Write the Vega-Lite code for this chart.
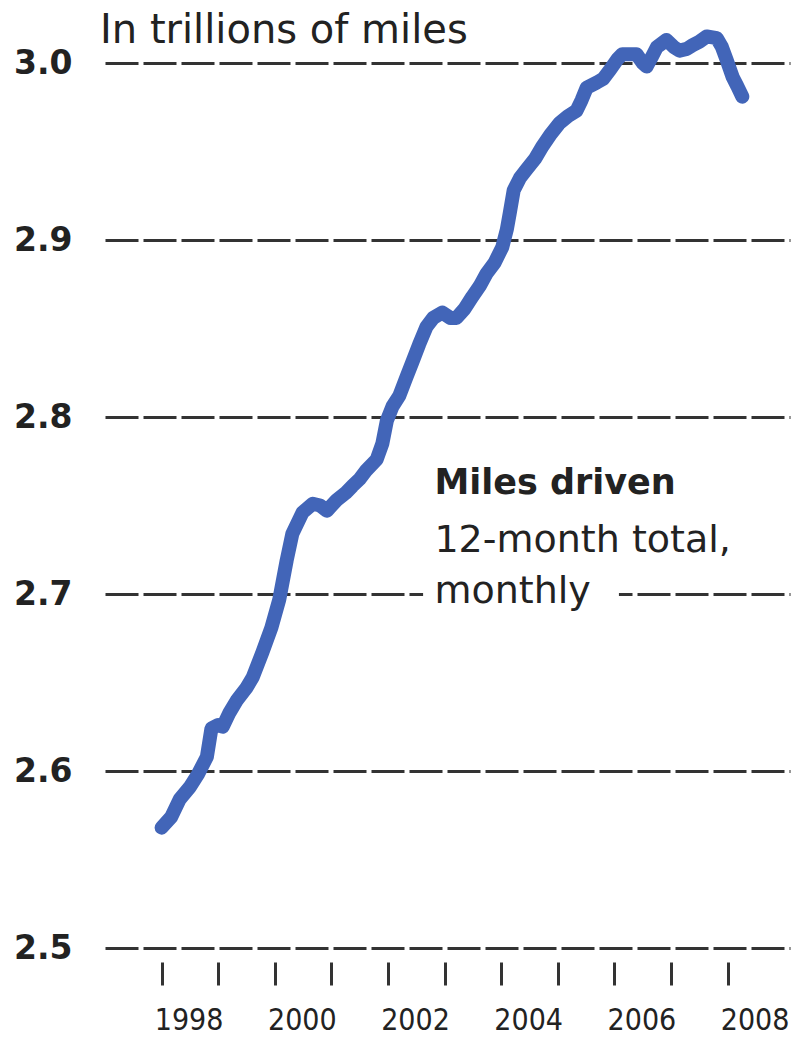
{
  "$schema": "https://vega.github.io/schema/vega-lite/v6.json",
  "autosize": "none",
  "width": 685,
  "height": 885,
  "padding": {"left": 105, "top": 63, "right": 7, "bottom": 91},
  "background": "white",
  "config": {"view": {"stroke": null}},
  "datasets": {
    "miles": [
      {"year": 1998.00, "miles": 2.568},
      {"year": 1998.17, "miles": 2.574},
      {"year": 1998.32, "miles": 2.584},
      {"year": 1998.50, "miles": 2.591},
      {"year": 1998.64, "miles": 2.598},
      {"year": 1998.80, "miles": 2.608},
      {"year": 1998.88, "miles": 2.624},
      {"year": 1999.00, "miles": 2.626},
      {"year": 1999.08, "miles": 2.625},
      {"year": 1999.20, "miles": 2.633},
      {"year": 1999.33, "miles": 2.640},
      {"year": 1999.50, "miles": 2.647},
      {"year": 1999.61, "miles": 2.653},
      {"year": 1999.78, "miles": 2.667},
      {"year": 1999.94, "miles": 2.681},
      {"year": 2000.08, "miles": 2.697},
      {"year": 2000.21, "miles": 2.719},
      {"year": 2000.31, "miles": 2.734},
      {"year": 2000.49, "miles": 2.746},
      {"year": 2000.67, "miles": 2.751},
      {"year": 2000.80, "miles": 2.750},
      {"year": 2000.92, "miles": 2.747},
      {"year": 2001.09, "miles": 2.753},
      {"year": 2001.25, "miles": 2.757},
      {"year": 2001.37, "miles": 2.761},
      {"year": 2001.50, "miles": 2.765},
      {"year": 2001.62, "miles": 2.770},
      {"year": 2001.80, "miles": 2.776},
      {"year": 2001.90, "miles": 2.785},
      {"year": 2001.98, "miles": 2.798},
      {"year": 2002.08, "miles": 2.806},
      {"year": 2002.20, "miles": 2.812},
      {"year": 2002.32, "miles": 2.822},
      {"year": 2002.43, "miles": 2.831},
      {"year": 2002.55, "miles": 2.841},
      {"year": 2002.68, "miles": 2.851},
      {"year": 2002.80, "miles": 2.856},
      {"year": 2002.96, "miles": 2.859},
      {"year": 2003.10, "miles": 2.856},
      {"year": 2003.21, "miles": 2.856},
      {"year": 2003.35, "miles": 2.861},
      {"year": 2003.49, "miles": 2.868},
      {"year": 2003.62, "miles": 2.874},
      {"year": 2003.74, "miles": 2.881},
      {"year": 2003.88, "miles": 2.887},
      {"year": 2004.02, "miles": 2.896},
      {"year": 2004.10, "miles": 2.906},
      {"year": 2004.15, "miles": 2.915},
      {"year": 2004.22, "miles": 2.928},
      {"year": 2004.33, "miles": 2.935},
      {"year": 2004.45, "miles": 2.940},
      {"year": 2004.60, "miles": 2.946},
      {"year": 2004.73, "miles": 2.953},
      {"year": 2004.88, "miles": 2.960},
      {"year": 2005.03, "miles": 2.966},
      {"year": 2005.18, "miles": 2.970},
      {"year": 2005.33, "miles": 2.973},
      {"year": 2005.42, "miles": 2.979},
      {"year": 2005.51, "miles": 2.986},
      {"year": 2005.69, "miles": 2.989},
      {"year": 2005.80, "miles": 2.991},
      {"year": 2005.92, "miles": 2.996},
      {"year": 2006.05, "miles": 3.002},
      {"year": 2006.14, "miles": 3.005},
      {"year": 2006.25, "miles": 3.005},
      {"year": 2006.39, "miles": 3.005},
      {"year": 2006.50, "miles": 3.000},
      {"year": 2006.57, "miles": 2.998},
      {"year": 2006.67, "miles": 3.004},
      {"year": 2006.75, "miles": 3.009},
      {"year": 2006.92, "miles": 3.013},
      {"year": 2007.05, "miles": 3.009},
      {"year": 2007.15, "miles": 3.007},
      {"year": 2007.28, "miles": 3.008},
      {"year": 2007.38, "miles": 3.010},
      {"year": 2007.50, "miles": 3.012},
      {"year": 2007.63, "miles": 3.015},
      {"year": 2007.81, "miles": 3.014},
      {"year": 2007.90, "miles": 3.009},
      {"year": 2007.98, "miles": 3.002},
      {"year": 2008.09, "miles": 2.992},
      {"year": 2008.17, "miles": 2.987},
      {"year": 2008.26, "miles": 2.981}
    ]
  },
  "layer": [
    {
      "data": {"name": "miles"},
      "mark": {"type": "line", "color": "#4265b8", "strokeWidth": 14, "strokeCap": "round", "strokeJoin": "round"},
      "encoding": {
        "x": {
          "field": "year",
          "type": "quantitative",
          "scale": {"domain": [1997, 2009.1025], "nice": false, "zero": false},
          "axis": {
            "title": null,
            "values": [1998, 1999, 2000, 2001, 2002, 2003, 2004, 2005, 2006, 2007, 2008],
            "format": "d",
            "labelExpr": "datum.value % 2 == 0 ? datum.label : ''",
            "grid": false,
            "domain": false,
            "offset": 14,
            "ticks": true,
            "tickSize": 23,
            "tickWidth": 3,
            "tickColor": "#333333",
            "labelFont": "Liberation Sans Narrow, DejaVu Sans Condensed, sans-serif",
            "labelFontSize": 30,
            "labelColor": "#222222",
            "labelAlign": "center",
            "labelOffset": 27,
            "labelPadding": 20,
            "labelOverlap": false
          }
        },
        "y": {
          "field": "miles",
          "type": "quantitative",
          "scale": {"domain": [2.5, 3.0], "nice": false, "zero": false},
          "axis": {
            "title": null,
            "values": [2.5, 2.6, 2.7, 2.8, 2.9, 3.0],
            "format": ".1f",
            "domain": false,
            "ticks": false,
            "grid": true,
            "gridColor": "#333333",
            "gridWidth": 3,
            "gridDash": [33, 5],
            "gridOpacity": 1,
            "labelFont": "DejaVu Sans",
            "labelFontSize": 33,
            "labelFontWeight": "bold",
            "labelColor": "#222222",
            "labelPadding": 33,
            "labelOverlap": false
          }
        }
      }
    },
    {
      "data": {"values": [{}]},
      "mark": {"type": "rect", "color": "white"},
      "encoding": {
        "x": {"datum": 2002.62, "type": "quantitative"},
        "x2": {"datum": 2006.08},
        "y": {"datum": 2.696, "type": "quantitative"},
        "y2": {"datum": 2.704}
      }
    },
    {
      "data": {"values": [{"label": "In trillions of miles"}]},
      "mark": {"type": "text", "align": "left", "baseline": "alphabetic", "font": "DejaVu Sans", "fontSize": 40, "fontWeight": "normal", "color": "#222222"},
      "encoding": {
        "x": {"datum": 1996.912, "type": "quantitative"},
        "y": {"datum": 3.0113, "type": "quantitative"},
        "text": {"field": "label"}
      }
    },
    {
      "data": {"values": [{"label": "Miles driven"}]},
      "mark": {"type": "text", "align": "left", "baseline": "alphabetic", "font": "DejaVu Sans", "fontSize": 35, "fontWeight": "bold", "color": "#222222"},
      "encoding": {
        "x": {"datum": 2002.82, "type": "quantitative"},
        "y": {"datum": 2.7565, "type": "quantitative"},
        "text": {"field": "label"}
      }
    },
    {
      "data": {"values": [{"label": "12-month total,\nmonthly"}]},
      "mark": {"type": "text", "align": "left", "baseline": "alphabetic", "font": "DejaVu Sans", "fontSize": 38, "fontWeight": "normal", "color": "#222222", "lineBreak": "\n", "lineHeight": 51},
      "encoding": {
        "x": {"datum": 2002.82, "type": "quantitative"},
        "y": {"datum": 2.7237, "type": "quantitative"},
        "text": {"field": "label"}
      }
    }
  ]
}
